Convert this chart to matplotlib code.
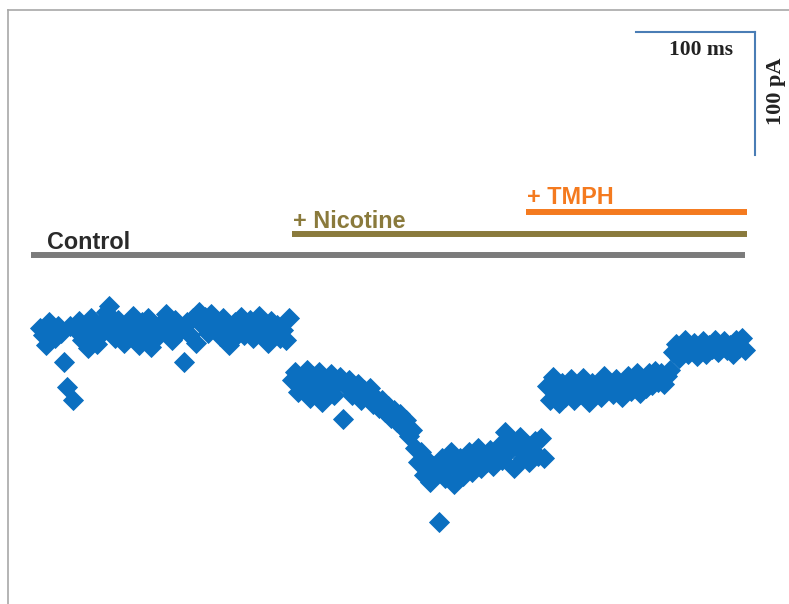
import matplotlib.pyplot as plt
import numpy as np

# inward current amplitude per sweep (pA), larger = more inward, drawn downward
control_pa = [328, 335, 345, 322, 330, 338, 326, 333, 362, 387,
              326, 400, 330, 321, 340, 327, 348, 318, 335, 344,
              324, 332, 312, 306, 326, 338, 320, 331, 343, 323,
              336, 316, 328, 345, 322, 333, 318, 347, 329, 337,
              324, 331, 314, 326, 340, 320, 333, 327, 362, 322,
              335, 318, 343, 312, 325, 317, 333, 314, 328, 321,
              336, 318, 330, 345, 340, 322, 331, 317, 335, 326,
              320, 338, 324, 316, 332, 327, 343, 321, 334, 325,
              338, 330, 340, 318]
nicotine_pa = [380, 372, 392, 378, 386, 370, 398, 376, 388, 372,
               402, 380, 392, 374, 395, 383, 377, 419, 386, 380,
               395, 388, 384, 400, 390, 397, 388, 404, 398, 408,
               400, 412, 406, 418, 410, 422, 414, 428, 420, 436,
               430, 448, 462, 452, 475, 460, 482, 466, 472, 522,
               458, 478, 465, 452, 484, 470, 458, 476, 462, 452,
               472, 460, 448, 468, 456, 462, 450, 466, 455, 446,
               460, 432, 452, 440, 468, 447, 437, 458, 444, 462,
               450, 441, 456, 438, 458]
tmph_pa = [386, 400, 377, 394, 403, 383, 397, 388, 379, 400,
           386, 394, 378, 391, 402, 383, 393, 386, 397, 376,
           388, 383, 394, 379, 390, 397, 383, 376, 391, 386,
           373, 393, 383, 388, 373, 385, 371, 382, 373, 384,
           376, 370,
           352, 344, 358, 346, 340, 354, 347, 343, 356, 350,
           341, 354, 345, 349, 340, 352, 346, 341, 350, 345,
           354, 340, 348, 338, 350]

# application windows (sweep numbers) and label text
labels = ['Control', '+ Nicotine', '+ TMPH']
starts = [-3, 84, 162]
ends = [235, 235.5, 235.5]
colors = ['#7b7b7b', '#8a7a3c', '#f47a1f']
text_colors = ['#2a2a2a', '#8a7a3c', '#f47a1f']
bar_y = [0.577, 0.6125, 0.649]
label_x = [2.3, 84.3, 162.3]
label_y = [0.587, 0.6225, 0.662]

current = np.array(control_pa + nicotine_pa + tmph_pa)
sweep = np.arange(len(current))

fig = plt.figure(figsize=(7.89, 6.04), dpi=100)
ax = fig.add_axes([0, 0, 1, 1])
ax.set_xlim(-40 / 3, 749 / 3)
ax.set_ylim(604, 0)
ax.axis('off')

ax.plot(sweep, current, ls='none', marker='D', ms=10.6, mew=0.6,
        color='#0b6fc0', mec='#0b6fc0')

trans = ax.get_xaxis_transform()
for lab, s, e, c, tc, by, lx, ly in zip(labels, starts, ends, colors, text_colors,
                                        bar_y, label_x, label_y):
    ax.plot([s, e], [by, by], transform=trans, color=c, lw=4.3,
            solid_capstyle='butt')
    ax.text(lx, ly, lab, transform=trans, color=tc, fontsize=16.8,
            fontweight='bold', family='Liberation Sans', va='baseline')

# scale bar
sb = '#4a7db5'
ax.plot([0.806, 0.957], [0.947, 0.947], transform=ax.transAxes, color=sb, lw=1.5)
ax.plot([0.957, 0.957], [0.947, 0.743], transform=ax.transAxes, color=sb, lw=1.5)
ax.text(0.889, 0.934, '100 ms', transform=ax.transAxes, ha='center', va='top',
        fontsize=15.5, fontweight='bold', family='Liberation Serif', color='#222222')
ax.text(0.983, 0.849, '100 pA', transform=ax.transAxes, ha='center', va='center',
        rotation=90, fontsize=16, fontweight='bold', family='Liberation Serif',
        color='#222222')

# frame
ax.plot([0.0101, 0.0101], [0, 0.983], transform=ax.transAxes, color='#a8a8a8',
        lw=1.2, clip_on=False)
ax.plot([0.0101, 1], [0.983, 0.983], transform=ax.transAxes, color='#a8a8a8',
        lw=1.2, clip_on=False)

fig.savefig('out.png', dpi=100)
